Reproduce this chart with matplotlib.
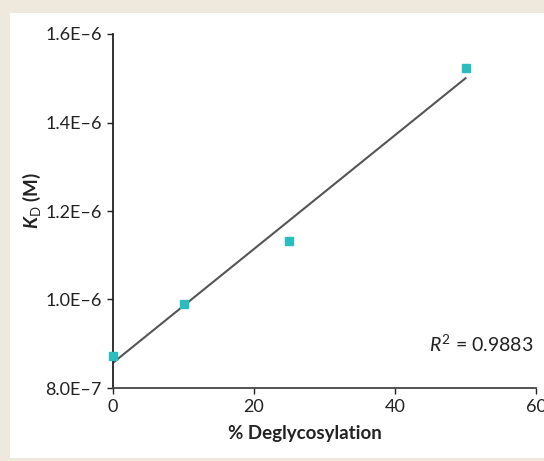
import matplotlib.pyplot as plt
from matplotlib.patches import Rectangle

# values
deglyco = [0, 10, 25, 50]
kd = [8.72e-7, 9.90e-7, 1.133e-6, 1.524e-6]

fit_x = [0, 50]
fit_y = [8.57e-7, 1.500e-6]
r_squared = 0.9883

x_ticks = [0, 20, 40, 60]
y_ticks = [8.0e-7, 1.0e-6, 1.2e-6, 1.4e-6, 1.6e-6]
y_tick_labels = ["8.0E\u20137", "1.0E\u20136", "1.2E\u20136", "1.4E\u20136", "1.6E\u20136"]

plt.rcParams['font.family'] = ['Lato', 'DejaVu Sans']
plt.rcParams['mathtext.fontset'] = 'custom'
plt.rcParams['mathtext.rm'] = 'Lato'
plt.rcParams['mathtext.it'] = 'Lato:italic'
plt.rcParams['mathtext.bf'] = 'Lato:bold:italic'
plt.rcParams['mathtext.sf'] = 'Lato:bold'

W, H = 544, 461
fig = plt.figure(figsize=(W / 100, H / 100), dpi=100)
fig.patch.set_facecolor('#efe9dd')
# white panel behind the axes
fig.patches.append(Rectangle((10 / W, 3 / H), 1 - 10 / W, (458 - 13) / H,
                             transform=fig.transFigure, facecolor='white',
                             edgecolor='none', zorder=-10))

ax = fig.add_axes([113 / W, 1 - 388 / H, (536 - 113) / W, (388 - 34) / H])
ax.set_facecolor('none')

ax.plot(fit_x, fit_y, color='#555555', lw=1.5, zorder=2)
ax.plot(deglyco, kd, 's', color='#2bbdbd', markersize=6, clip_on=False, zorder=3)

ax.set_xlim(0, 60)
ax.set_ylim(8.0e-7, 1.6e-6)
ax.set_xticks(x_ticks)
ax.set_yticks(y_ticks)
ax.set_yticklabels(y_tick_labels)

for s in ['top', 'right']:
    ax.spines[s].set_visible(False)
ax.spines['left'].set_color('#222222')
ax.spines['bottom'].set_color('#444444')
ax.spines['left'].set_linewidth(1.3)
ax.spines['bottom'].set_linewidth(1.3)
ax.tick_params(axis='both', length=4, width=1, labelsize=13, pad=4,
               colors='#222222')

ax.set_xlabel("% Deglycosylation", fontsize=13.5, fontweight='bold', color='#222222')
ax.xaxis.set_label_coords(0.454, -0.105)
ax.set_ylabel(r"$\mathbf{K}_{\mathrm{D}}\ \mathsf{(M)}$", fontsize=13.5,
              color='#222222')
ax.yaxis.set_label_coords(-0.165, 0.53)

ax.text(0.995, 0.125, r"$R^{\mathrm{2}}$ = %.4f" % r_squared, transform=ax.transAxes,
        ha='right', va='center', fontsize=14, color='#222222')

fig.savefig("out.png", dpi=100, facecolor=fig.get_facecolor())
